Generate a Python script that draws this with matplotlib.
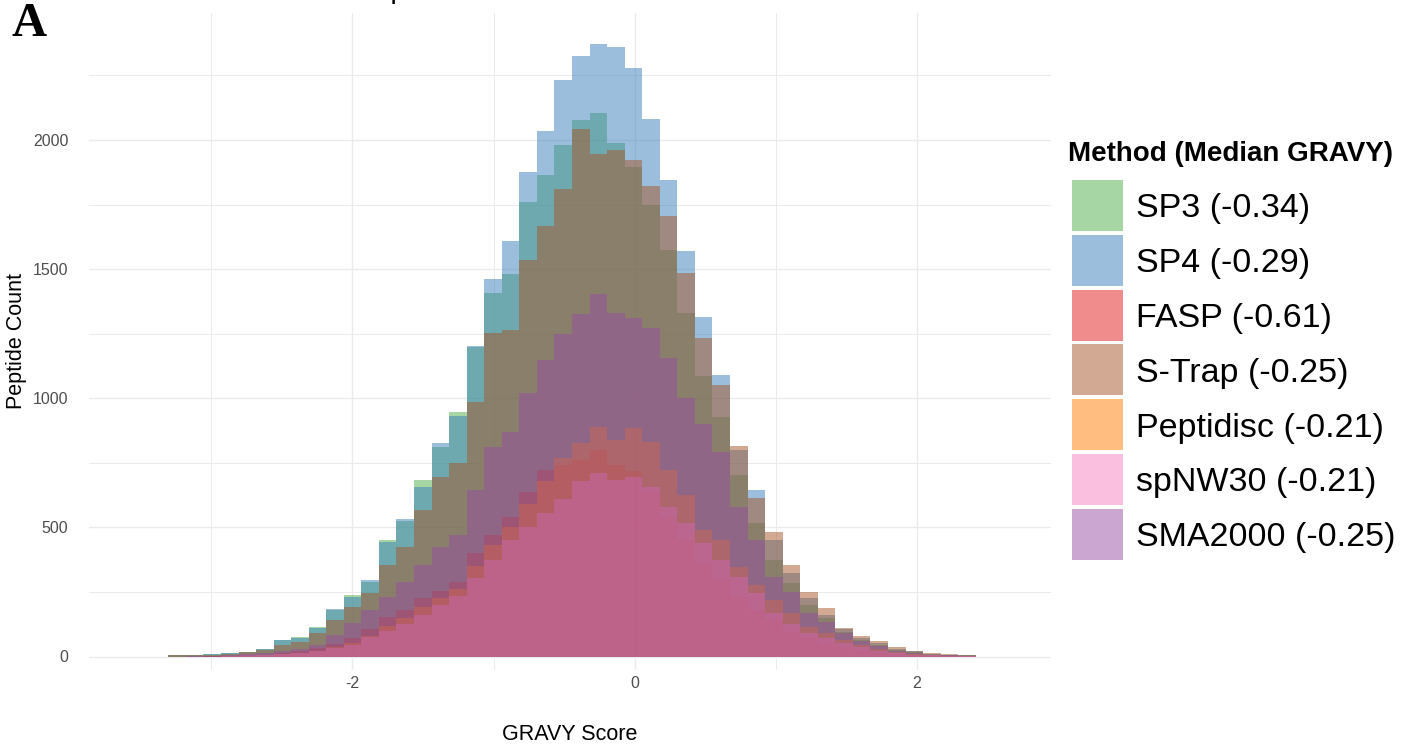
import numpy as np
import matplotlib
matplotlib.use("Agg")
import matplotlib.pyplot as plt
from matplotlib.patches import Rectangle

plt.rcParams["font.family"] = ["Liberation Sans", "DejaVu Sans"]
plt.rcParams["axes.unicode_minus"] = False

# ---- data -------------------------------------------------------------
METHODS = ["SP3", "SP4", "FASP", "S-Trap", "Peptidisc", "spNW30", "SMA2000"]
MEDIANS = [-0.34, -0.29, -0.61, -0.25, -0.21, -0.21, -0.25]
COLORS = ["#4DAF4A", "#377EB8", "#E41A1C", "#A65628", "#FF7F00", "#F781BF", "#984EA3"]

# histogram bins (GRAVY score)
BIN_START = -3.305
BIN_WIDTH = 0.1244

SP3 = [6, 7, 8, 12, 19, 30, 64, 74, 113, 180, 240, 290, 451, 525, 683, 812,
       945, 1198, 1409, 1481, 1761, 1866, 1980, 2077, 2105, 1989, 1896, 1750,
       1574, 1332, 1086, 928, 703, 516, 374, 283, 200, 150, 95, 65, 45, 25,
       16, 9, 7, 5]
SP4 = [6, 7, 8, 12, 18, 28, 62, 72, 110, 183, 232, 296, 445, 531, 657, 828,
       931, 1202, 1460, 1610, 1875, 2034, 2234, 2325, 2371, 2361, 2277, 2080,
       1845, 1571, 1316, 1090, 800, 645, 451, 322, 225, 160, 105, 72, 52, 30,
       20, 10, 7, 5]
FASP = [0, 0, 1, 2, 4, 6, 12, 20, 32, 50, 70, 105, 152, 180, 225, 255, 290,
        399, 470, 541, 638, 722, 740, 760, 800, 740, 720, 640, 540, 450, 360,
        300, 230, 180, 140, 100, 70, 50, 35, 25, 15, 9, 5, 3, 1, 0]
S_TRAP = [5, 5, 6, 11, 17, 27, 44, 57, 90, 141, 193, 245, 355, 425, 567, 696,
          748, 987, 1251, 1264, 1536, 1667, 1809, 2041, 1945, 1963, 1922, 1820,
          1704, 1486, 1232, 1051, 815, 612, 483, 354, 251, 187, 112, 79, 61, 35,
          23, 12, 8, 5]
PEPTIDISC = [0, 0, 0, 1, 2, 4, 8, 13, 22, 36, 52, 80, 120, 150, 190, 225, 260,
             350, 430, 500, 590, 680, 770, 825, 890, 840, 884, 832, 722, 625,
             490, 451, 348, 277, 219, 167, 116, 90, 64, 45, 30, 18, 10, 5, 3, 1]
SPNW30 = [0, 0, 0, 2, 4, 6, 10, 14, 22, 33, 45, 75, 100, 125, 160, 200, 235,
          303, 374, 451, 502, 554, 610, 680, 709, 683, 696, 657, 580, 516, 438,
          374, 309, 245, 167, 125, 90, 70, 51, 38, 22, 12, 7, 4, 2, 1]
SMA2000 = [0, 1, 2, 5, 8, 12, 20, 30, 44, 83, 128, 180, 232, 290, 354, 425,
           470, 645, 812, 870, 1019, 1150, 1250, 1325, 1403, 1329, 1310, 1271,
           1154, 1000, 900, 790, 580, 450, 309, 251, 167, 135, 90, 60, 40, 22,
           12, 6, 4, 1]

SERIES = [SP3, SP4, FASP, S_TRAP, PEPTIDISC, SPNW30, SMA2000]

X_TICKS = [-2, 0, 2]
X_MINOR = [-3, -1, 1]
Y_TICKS = [0, 500, 1000, 1500, 2000]
Y_MINOR = [250, 750, 1250, 1750, 2250]

# ---- layout helpers (pixel -> figure fraction) -------------------------
W, H = 1406, 745
def fx(px):
    return px / W
def fy(py):
    return 1 - py / H

PANEL_TOP, PANEL_BOTTOM = 12.7, 670
fig = plt.figure(figsize=(W / 100, H / 100), dpi=100)
ax = fig.add_axes([fx(89), fy(PANEL_BOTTOM), (1051 - 89) / W,
                   (PANEL_BOTTOM - PANEL_TOP) / H])

n_bins = len(SP3)
edges = BIN_START + BIN_WIDTH * np.arange(n_bins + 1)

for counts, color in zip(SERIES, COLORS):
    ax.stairs(counts, edges, fill=True, color=color, alpha=0.5, linewidth=0)

ax.set_xlim(-3.867, 2.951)
ax.set_ylim(-(PANEL_BOTTOM - 656.5) / 0.25825, (656.5 - PANEL_TOP) / 0.25825)

ax.set_xticks(X_TICKS)
ax.set_xticks(X_MINOR, minor=True)
ax.set_yticks(Y_TICKS)
ax.set_yticks(Y_MINOR, minor=True)
ax.set_axisbelow(True)
ax.grid(which="major", color="#EBEBEB", linewidth=1.0)
ax.grid(which="minor", color="#EBEBEB", linewidth=0.7)
for s in ax.spines.values():
    s.set_visible(False)
ax.tick_params(which="both", length=0, labelsize=11.5, labelcolor="#4D4D4D")
ax.tick_params(axis="y", pad=15)
ax.tick_params(axis="x", pad=4)

ax.set_xlabel("GRAVY Score", fontsize=15.5, labelpad=24)
ax.set_ylabel("Peptide Count", fontsize=15.5, labelpad=4)

# ---- legend -----------------------------------------------------------
fig.text(fx(1068), fy(161), "Method (Median GRAVY)", fontsize=20,
         fontweight="bold", va="baseline", ha="left")
key_size = 51
key_step = 54.8
for i, (name, med, color) in enumerate(zip(METHODS, MEDIANS, COLORS)):
    top = 180 + key_step * i
    fig.add_artist(Rectangle((fx(1071.7), fy(top + key_size)),
                             key_size / W, key_size / H,
                             transform=fig.transFigure, facecolor=color,
                             alpha=0.5, edgecolor="none"))
    fig.text(fx(1136), fy(top + key_size / 2), f"{name} ({med:.2f})",
             fontsize=24.5, va="center_baseline", ha="left")

# ---- headings -----------------------------------------------------------
fig.text(fx(355), fy(-1.5), "Peptide GRAVY Distribution", fontsize=20.8,
         va="baseline", ha="left")
fig.text(fx(11), fy(36), "A", family=["Liberation Serif", "DejaVu Serif"],
         fontweight="bold", fontsize=35, va="baseline", ha="left")

fig.savefig("out.png", dpi=100)
